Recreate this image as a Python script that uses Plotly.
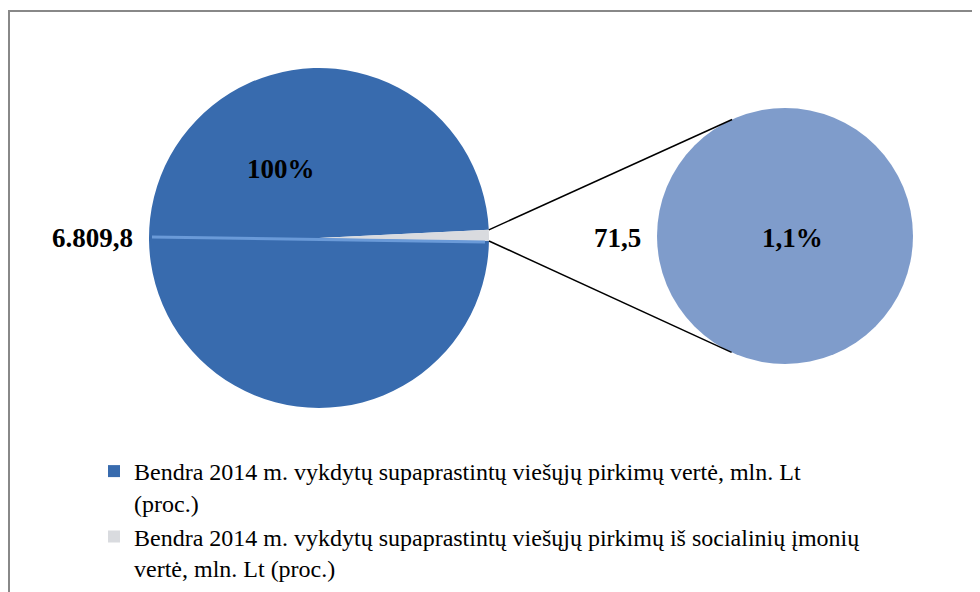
import math
import plotly.graph_objects as go

# ---- data ----
labels = [
    "Bendra 2014 m. vykdytų supaprastintų viešųjų pirkimų vertė, mln. Lt<br>(proc.)",
    "Bendra 2014 m. vykdytų supaprastintų viešųjų pirkimų iš socialinių įmonių<br>vertė, mln. Lt (proc.)",
]
values = [6809.8, 71.5]
percent_labels = ["100%", "1,1%"]
colors_main = ["#386BAE", "#D9DBDF"]
color_second = "#7F9CCB"


def fmt_lt(v):
    s = f"{v:,.1f}"
    return s.replace(",", "X").replace(".", ",").replace("X", ".")


value_labels = [fmt_lt(v) for v in values]

W, H = 980, 592
OFF = 8  # page body margin

# pie geometry (page pixels)
c1, r1 = (319 - OFF, 238 - OFF), 170
c2, r2 = (785 - OFF, 236 - OFF), 128


def dom(c, r):
    return dict(x=[(c[0] - r) / W, (c[0] + r) / W],
                y=[1 - (c[1] + r) / H, 1 - (c[1] - r) / H])


def px(x, y):
    return x / W, 1 - y / H


fig = go.Figure()

# main pie: big slice first, clockwise; small slice ends just below 3 o'clock
fig.add_trace(go.Pie(
    labels=labels,
    values=values,
    marker=dict(colors=colors_main, line=dict(width=0)),
    sort=False, direction="clockwise", rotation=91,
    textinfo="none", hoverinfo="label+value", domain=dom(c1, r1),
    showlegend=True,
))

# secondary pie
fig.add_trace(go.Pie(
    labels=[labels[1]],
    values=[values[1]],
    marker=dict(colors=[color_second], line=dict(width=0)),
    sort=False, textinfo="none", hoverinfo="label+value",
    domain=dom(c2, r2), showlegend=False,
))

# connector lines: from edges of small slice to tangent points on secondary pie
frac = values[1] / sum(values)
a_start = math.radians(-1.0)
a_end = a_start + 2 * math.pi * frac
p_top = (c1[0] + r1 * math.cos(a_end), c1[1] - r1 * math.sin(a_end))
p_bot = (c1[0] + r1 * math.cos(a_start), c1[1] - r1 * math.sin(a_start))


def tangent_point(p, upper):
    dx, dy = c2[0] - p[0], c2[1] - p[1]
    d = math.hypot(dx, dy)
    base = math.atan2(dy, dx)
    off = math.asin(r2 / d)
    ang = base - off if upper else base + off
    L = math.sqrt(d * d - r2 * r2)
    return (p[0] + L * math.cos(ang), p[1] + L * math.sin(ang))


shapes = []

# bevel highlight along the slice boundary (decorative)
hl0 = px(c1[0] - r1 + 3, c1[1] - 1)
hl1 = px(p_bot[0] - 4, p_bot[1] + 1)
shapes.append(dict(type="line", xref="paper", yref="paper",
                   x0=hl0[0], y0=hl0[1], x1=hl1[0], y1=hl1[1],
                   line=dict(color="#6A9AD8", width=3)))

for p, up in [(p_top, True), (p_bot, False)]:
    t = tangent_point(p, up)
    x0, y0 = px(*p)
    x1, y1 = px(*t)
    shapes.append(dict(type="line", xref="paper", yref="paper",
                       x0=x0, y0=y0, x1=x1, y1=y1,
                       line=dict(color="black", width=1.5)))

# outer frame
fx0, fy1 = px(1, 3)
shapes.append(dict(type="rect", xref="paper", yref="paper",
                   x0=fx0, y0=-0.05, x1=1.05, y1=fy1,
                   line=dict(color="#888888", width=2), fillcolor="rgba(0,0,0,0)"))

font_bold = dict(family="Liberation Serif", size=27, color="black")
annotations = []
for text, (x, y) in [
    (percent_labels[0], (281, 169)),
    (value_labels[0], (92, 238)),
    (value_labels[1], (617, 238)),
    (percent_labels[1], (792, 238)),
]:
    ax, ay = px(x - OFF, y - OFF)
    annotations.append(dict(text=f"<b>{text}</b>", x=ax, y=ay, xref="paper", yref="paper",
                            showarrow=False, font=font_bold, xanchor="center", yanchor="middle"))

lx, ly = px(86, 441)
fig.update_layout(
    width=W, height=H,
    margin=dict(l=0, r=0, t=0, b=0),
    paper_bgcolor="white", plot_bgcolor="white",
    shapes=shapes, annotations=annotations,
    legend=dict(x=lx, y=ly, xanchor="left", yanchor="top", valign="top",
                font=dict(family="Liberation Serif", size=24, color="black"),
                bgcolor="rgba(0,0,0,0)", traceorder="normal", tracegroupgap=0),
)

fig.write_html("out.html")
